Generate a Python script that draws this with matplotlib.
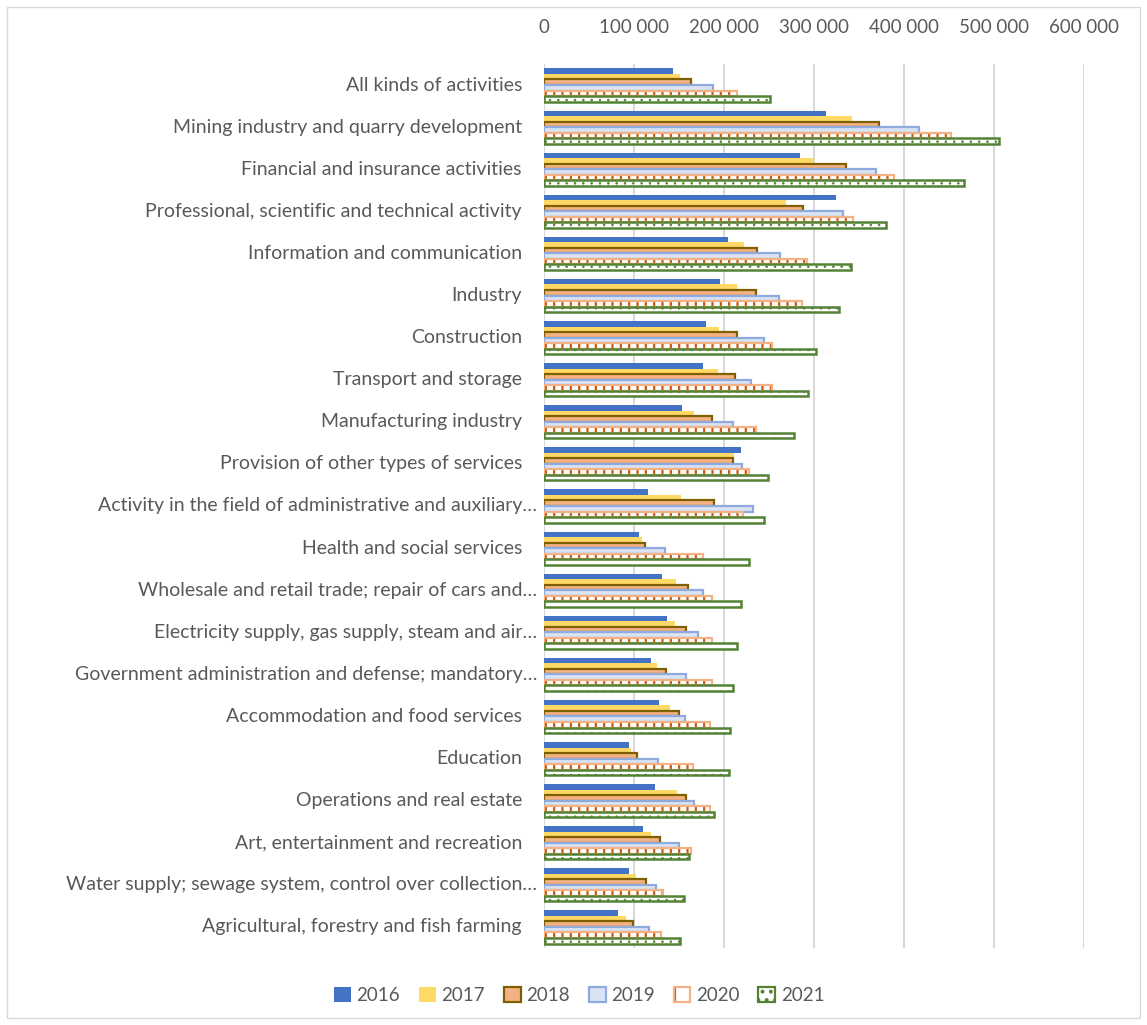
import matplotlib
matplotlib.use("Agg")
import matplotlib.pyplot as plt
from matplotlib.patches import Patch, Rectangle
from matplotlib.ticker import FuncFormatter
import numpy as np

plt.rcParams['font.family'] = ['Lato', 'DejaVu Sans']
plt.rcParams['hatch.linewidth'] = 1.6

categories = [
    "All kinds of activities",
    "Mining industry and quarry development",
    "Financial and insurance activities",
    "Professional, scientific and technical activity",
    "Information and communication",
    "Industry",
    "Construction",
    "Transport and storage",
    "Manufacturing industry",
    "Provision of other types of services",
    "Activity in the field of administrative and auxiliary\u2026",
    "Health and social services",
    "Wholesale and retail trade; repair of cars and\u2026",
    "Electricity supply, gas supply, steam and air\u2026",
    "Government administration and defense; mandatory\u2026",
    "Accommodation and food services",
    "Education",
    "Operations and real estate",
    "Art, entertainment and recreation",
    "Water supply; sewage system, control over collection\u2026",
    "Agricultural, forestry and fish farming",
]

years = ["2016", "2017", "2018", "2019", "2020", "2021"]

v2016 = [142700, 312600, 284100, 323800, 204100, 195200, 179300, 176700, 153300, 218600, 114900,
         105600, 131100, 136300, 118600, 127400, 94400, 123000, 110000, 93800, 81600]
v2017 = [150800, 341500, 298200, 268600, 221500, 213700, 194100, 193300, 166300, 210800, 151600,
         108200, 146000, 145200, 124900, 139700, 96300, 147100, 118900, 101600, 90800]
v2018 = [163000, 372200, 334900, 287400, 236000, 234900, 214100, 211500, 186700, 210000, 188200,
         111900, 159300, 157100, 135200, 149300, 103000, 157800, 128200, 113000, 98900]
v2019 = [187000, 416300, 368900, 331900, 262200, 260800, 244100, 230000, 209700, 219300, 231900,
         133800, 176000, 170800, 157400, 156700, 126700, 166700, 149700, 123800, 116000]
v2020 = [213700, 451500, 388200, 342700, 291500, 286300, 253300, 253300, 235200, 227400, 220800,
         176000, 186700, 186700, 186300, 184400, 165600, 184100, 163000, 131600, 130000]
v2021 = [250800, 504900, 466300, 379700, 340800, 327400, 301500, 292600, 277100, 248600, 243800,
         227800, 218600, 214100, 209300, 206300, 205600, 188600, 161100, 154900, 151100]

series = [v2016, v2017, v2018, v2019, v2020, v2021]

fig = plt.figure(figsize=(11.47, 10.25), dpi=100)
ax = fig.add_axes([0.4745, 0.0751, 0.4708, 0.8625])

y = np.arange(len(categories))
h = 0.131

styles = [
    dict(color='#4472C4', linewidth=0),
    dict(color='#FFD966', linewidth=0),
    dict(facecolor='#F4B183', edgecolor='#7F6000', linewidth=1.6),
    dict(facecolor='#DAE3F3', edgecolor='#8FAADC', linewidth=1.6),
]

handles = []
for i, vals in enumerate(series):
    pos = y + (i - 2.5) * h
    if i < 4:
        ax.barh(pos, vals, height=h, zorder=3, **styles[i])
        handles.append(Patch(**styles[i]))
    elif i == 4:
        # white bar with orange vertical ticks
        ax.barh(pos, vals, height=h, facecolor='white', edgecolor='#C55A11',
                hatch='||', linewidth=0, zorder=3)
        ax.barh(pos, vals, height=h, fill=False, edgecolor='#F4B183',
                linewidth=1.6, zorder=4)
        handles.append((Patch(facecolor='white', edgecolor='#C55A11', hatch='|', linewidth=0),
                        Patch(fill=False, edgecolor='#F4B183', linewidth=1.6)))
    else:
        # white bar with small green dots
        with plt.rc_context({'hatch.linewidth': 0.6}):
            ax.barh(pos, vals, height=h, facecolor='white', edgecolor='#548235',
                    hatch='..', linewidth=0, zorder=3)
            dots = Patch(facecolor='white', edgecolor='#548235', hatch='..', linewidth=0)
        ax.barh(pos, vals, height=h, fill=False, edgecolor='#548235',
                linewidth=1.8, zorder=4)
        handles.append((dots, Patch(fill=False, edgecolor='#548235', linewidth=1.6)))

ax.set_xlim(0, 600000)
ax.set_ylim(len(categories) - 0.5, -0.5)
ax.xaxis.tick_top()
ax.set_xticks(np.arange(0, 600001, 100000))
ax.xaxis.set_major_formatter(FuncFormatter(lambda v, p: f"{int(v):,}".replace(",", " ")))
ax.tick_params(axis='x', length=0, pad=20, labelsize=13.5, labelcolor='#595959')
ax.set_yticks([])
ax.grid(axis='x', color='#D9D9D9', linewidth=1.5, zorder=0)
for s in ax.spines.values():
    s.set_visible(False)

for i, lab in enumerate(categories):
    xpos = -0.0135 if lab.endswith('\u2026') else -0.0413
    ax.text(xpos, i, lab, transform=ax.get_yaxis_transform(), ha='right', va='center',
            fontsize=14, color='#595959')

fig.legend(handles, years, loc='center', bbox_to_anchor=(0.505, 0.029), ncol=6,
           frameon=False, fontsize=13.5, labelcolor='#595959', handlelength=0.9,
           handleheight=0.9, handletextpad=0.3, columnspacing=1.0)

fig.add_artist(Rectangle((0.006, 0.007), 0.988, 0.986, transform=fig.transFigure,
                         fill=False, edgecolor='#D9D9D9', linewidth=1))

fig.savefig("out.png", dpi=100, facecolor='white')
